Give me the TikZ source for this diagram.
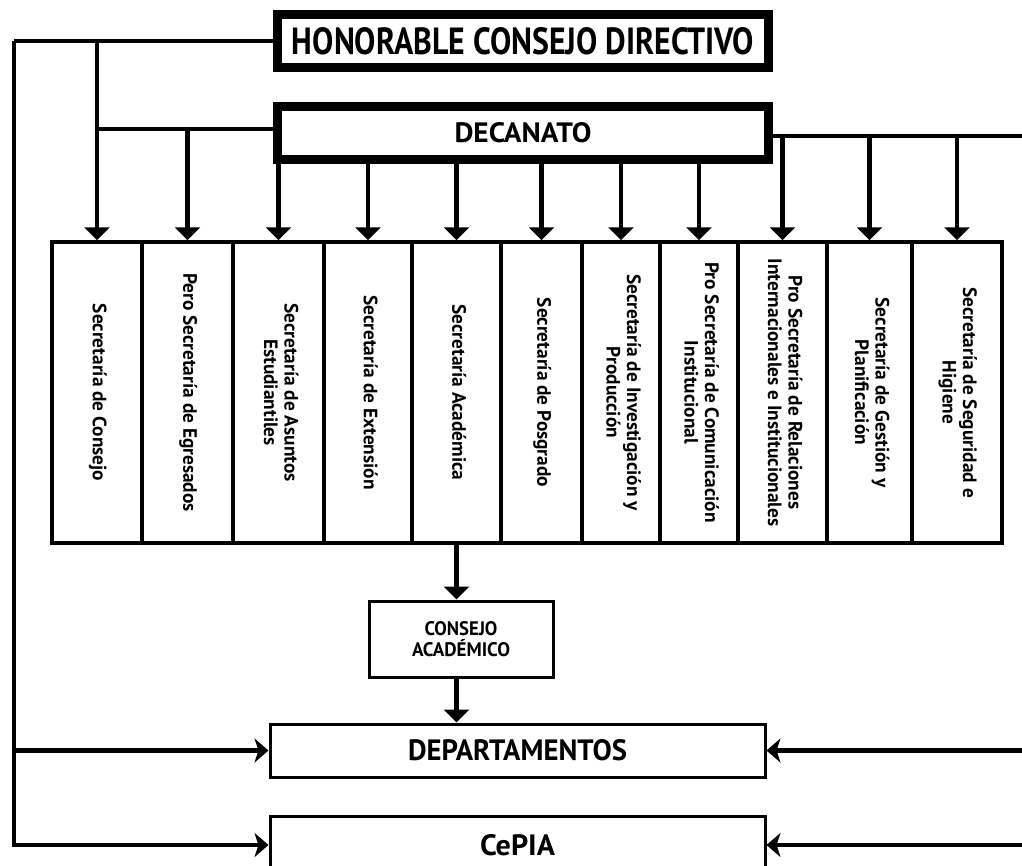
\documentclass[tikz,border=0pt]{standalone}
\usepackage{fontspec}
\setmainfont{PT Sans}
\usetikzlibrary{arrows.meta}
\newdimen\pxu \pxu=0.75pt
\newcommand{\vtext}[1]{\rotatebox{-90}{\fontsize{14.5}{15.5}\selectfont\begin{tabular}{@{}c@{}}#1\end{tabular}}}
\begin{document}
\begin{tikzpicture}[x=0.75pt,y=-0.75pt,
  thickbox/.style={draw, line width=9*\pxu, minimum width=491*\pxu, minimum height=53*\pxu, inner sep=0pt, font=\bfseries},
  colbox/.style={draw, line width=3.5*\pxu, minimum height=301*\pxu, inner sep=0pt, font=\bfseries},
  thinbox/.style={draw, line width=3*\pxu, inner sep=0pt, font=\bfseries, align=center},
  conn/.style={line width=4.5*\pxu},
  downtip/.style={-{Triangle[length=9.75pt,width=18.75pt]}},
  sidetip/.style={-{Stealth[length=10.5pt,width=18pt,inset=3pt]}}]
\useasboundingbox (0,0) rectangle (1022,865);
\clip (0,0) rectangle (1022,865);
\fill[white] (0,0) rectangle (1022,865);

\node[thickbox] (HCD) at (523,41) {\resizebox{462\pxu}{27\pxu}{HONORABLE CONSEJO DIRECTIVO}};
\node[thickbox] (DEC) at (523,133) {\resizebox{137\pxu}{20\pxu}{DECANATO}};

\node[colbox, minimum width=90*\pxu] (c1) at (97,392.5) {\vtext{Secretaría de Consejo}};
\node[colbox, minimum width=91*\pxu] (c2) at (187.5,392.5) {\vtext{Pero Secretaría de Egresados}};
\node[colbox, minimum width=91*\pxu] (c3) at (278.5,392.5) {\vtext{Secretaría de Asuntos\\Estudiantiles}};
\node[colbox, minimum width=88*\pxu] (c4) at (368,392.5) {\vtext{Secretaría de Extensión}};
\node[colbox, minimum width=89*\pxu] (c5) at (456.5,392.5) {\vtext{Secretaría Académica}};
\node[colbox, minimum width=81*\pxu] (c6) at (541.5,392.5) {\vtext{Secretaría de Posgrado}};
\node[colbox, minimum width=78*\pxu] (c7) at (621,392.5) {\vtext{Secretaría de Investigación y\\Producción}};
\node[colbox, minimum width=78*\pxu] (c8) at (699,392.5) {\vtext{Pro Secretaría de Comunicación\\Institucional}};
\node[colbox, minimum width=89*\pxu] (c9) at (782.5,392.5) {\vtext{Pro Secretaría de Relaciones\\Internacionales e Institucionales}};
\node[colbox, minimum width=85*\pxu] (c10) at (869.5,392.5) {\vtext{Secretaría de Gestión y\\Planificación}};
\node[colbox, minimum width=90*\pxu] (c11) at (957,392.5) {\vtext{Secretaría de Seguridad e\\Higiene}};

\node[thinbox, minimum width=184*\pxu, minimum height=76*\pxu, font=\bfseries\fontsize{12}{15.75}\selectfont] (CA) at (461,639)
  {\resizebox{73\pxu}{14\pxu}{CONSEJO}\\\resizebox{98\pxu}{14\pxu}{ACAD\smash{É}MICO}};
\node[thinbox, minimum width=495*\pxu, minimum height=53*\pxu] (DEP) at (517.5,750.5) {\resizebox{219\pxu}{21\pxu}{DEPARTAMENTOS}};
\node[thinbox, minimum width=495*\pxu, minimum height=58*\pxu] (CEP) at (517.5,845) {\resizebox{75\pxu}{21\pxu}{CePIA}};

\coordinate (L) at (14,41);
\coordinate (R) at (1040,0);
\coordinate (DL) at (DEC.west |- 0,129);
\coordinate (DR) at (DEC.east |- 0,136);

% left trunk from HCD
\draw[conn] (HCD.west) -- (L);
\draw[conn,sidetip] (L) -- (L |- CEP.west) -- (CEP.west);
\draw[conn,sidetip] (L |- DEP.west) -- (DEP.west);
\draw[conn,downtip] (HCD.west -| c1.north) -- (c1.north);
% DECANATO left
\draw[conn] (DL) -- (DL -| c1.north);
\draw[conn,downtip] (DL -| c2.north) -- (c2.north);
% DECANATO bottom
\foreach \c in {c3,c4,c5,c6,c7,c8}
  \draw[conn,downtip] (DEC.south -| \c.north) -- (\c.north);
% DECANATO right
\draw[conn] (DR) -- (DR -| R);
\foreach \c in {c9,c10,c11}
  \draw[conn,downtip] (DR -| \c.north) -- (\c.north);
% lower chain
\draw[conn,downtip] (c5.south) -- (c5.south |- CA.north);
\draw[conn,downtip] (c5.south |- CA.south) -- (c5.south |- DEP.north);
% right side arrows
\draw[conn,sidetip] (R |- DEP.east) -- (DEP.east);
\draw[conn,sidetip] (R |- CEP.east) -- (CEP.east);
\end{tikzpicture}
\end{document}
